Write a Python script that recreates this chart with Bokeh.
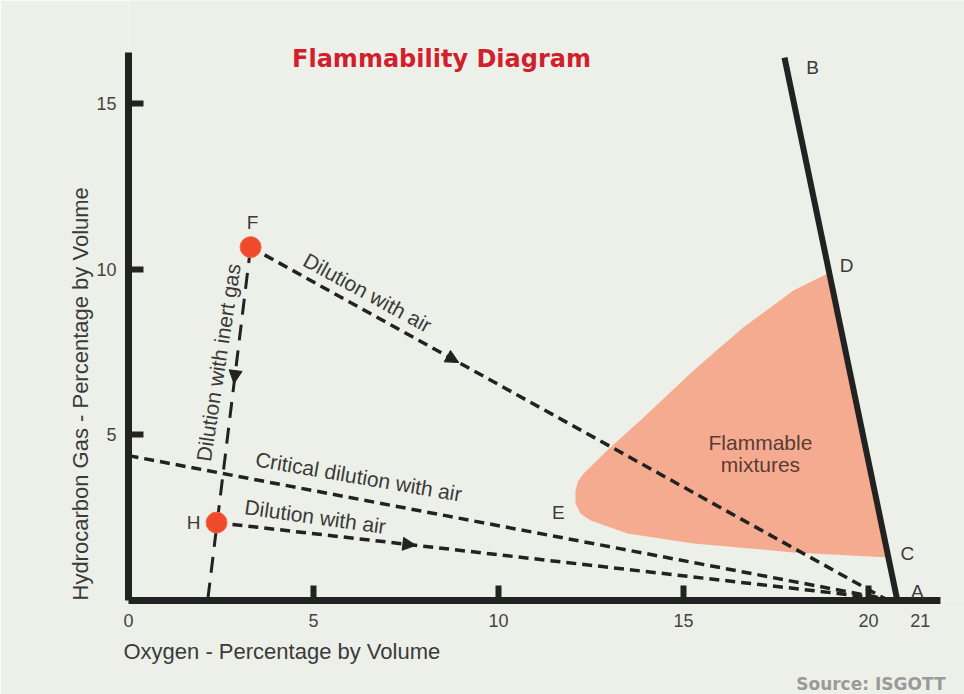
from bokeh.plotting import figure
from bokeh.models import (Range1d, FixedTicker, Label, LabelSet, ColumnDataSource,
                          Arrow, NormalHead, Title)
from bokeh.core.properties import value
from bokeh.embed import file_html
from bokeh.resources import INLINE

# ---------------- data ----------------
# flammable region outline (oxygen %, hydrocarbon %)
region_x = [18.94, 20.54, 17.97, 15.27, 13.49, 12.49, 12.22, 12.08, 12.08, 12.15, 12.30, 13.03, 13.92, 15.27, 16.62, 17.97]
region_y = [9.89, 1.30, 1.45, 1.72, 2.02, 2.41, 2.62, 2.93, 3.32, 3.60, 3.83, 4.62, 5.52, 6.94, 8.24, 9.35]

# key points
point_B = (17.73, 16.38)
point_A = (20.78, 0.0)       # end of the B-A boundary line
point_A_mix = (20.45, 0.05)  # where the air-dilution lines converge
point_F = (3.30, 10.66)
point_H = (2.38, 2.35)
point_G = (0.0, 4.37)
point_inert_end = (2.14, 0.0)

# axis extents, tick marks / labels
x_axis_max = 21.95
y_axis_max = 16.53
x_tick_marks = [5, 10, 15, 20]
x_tick_pos = [0, 5, 10, 15, 20, 21.4]
x_tick_text = ["0", "5", "10", "15", "20", "21"]
y_ticks = [5, 10, 15]

# letter labels
letter_text = ["F", "H", "G", "E", "D", "C", "A", "B"]
letter_x = [3.35, 1.76, -0.54, 11.62, 19.41, 21.05, 21.32, 18.49]
letter_y = [11.40, 2.35, 4.37, 2.65, 10.11, 1.42, 0.27, 16.08]

# ---------------- styling ----------------
BG = "#edf0e8"
INK = "#222222"
TXT = "#3a3a3a"
FONT = "Liberation Sans"

p = figure(width=964, height=694, x_range=Range1d(0, 22.595), y_range=Range1d(0, 18.10),
           output_backend="svg", toolbar_location=None,
           min_border_left=128, min_border_right=0, min_border_top=0, min_border_bottom=94,
           background_fill_color=BG, border_fill_color=BG, outline_line_color=None)
p.title.text = ""
p.grid.visible = False

# axes
xa = p.xaxis[0]
xa.bounds = (0, x_axis_max)
xa.ticker = FixedTicker(ticks=x_tick_pos, minor_ticks=x_tick_marks)
xa.major_label_overrides = {float(k): t for k, t in zip(x_tick_pos, x_tick_text)}
xa.major_tick_in = 0
xa.major_tick_out = 0
xa.major_tick_line_alpha = 0
xa.minor_tick_in = 15
xa.minor_tick_out = 0
xa.minor_tick_line_width = 6
xa.minor_tick_line_color = INK
xa.major_label_standoff = 13

ya = p.yaxis[0]
ya.bounds = (0, y_axis_max)
ya.ticker = FixedTicker(ticks=y_ticks, minor_ticks=[])
ya.major_tick_in = 15
ya.major_tick_out = 0
ya.major_tick_line_width = 6
ya.major_tick_line_color = INK
ya.major_label_standoff = 12
ya.major_label_orientation = "horizontal"

for ax in (xa, ya):
    ax.axis_line_width = 7
    ax.axis_line_color = INK
    ax.major_label_text_font = FONT
    ax.major_label_text_font_size = "18px"
    ax.major_label_text_color = "#444444"

# axis titles and source (as side titles)
p.add_layout(Title(text="Oxygen - Percentage by Volume", align="left", offset=-5,
                   vertical_align="middle", standoff=16, text_font=FONT,
                   text_font_size="22px", text_font_style="normal", text_color=TXT), "below")
p.add_layout(Title(text="Source: ISGOTT", align="right", offset=19,
                   vertical_align="middle", standoff=0, text_font="DejaVu Sans",
                   text_font_size="17px", text_font_style="bold", text_color="#9a9a9a"), "below")
p.add_layout(Title(text="Hydrocarbon Gas - Percentage by Volume", align="left", offset=0,
                   vertical_align="middle", standoff=0, text_font=FONT,
                   text_font_size="22px", text_font_style="normal", text_color=TXT), "left")

# flammable region
p.patch(region_x, region_y, fill_color="#f5ab90", line_color=None)

# dashed dilution lines
p.line([point_F[0], point_A_mix[0]], [point_F[1], point_A_mix[1]],
       line_color=INK, line_width=3.5, line_dash="10 6")
p.line([point_G[0], point_A_mix[0]], [point_G[1], point_A_mix[1]],
       line_color=INK, line_width=3.5, line_dash="10 6")
p.line([point_H[0], point_A_mix[0]], [point_H[1], point_A_mix[1]],
       line_color=INK, line_width=3.5, line_dash="10 6")
p.line([point_F[0], point_inert_end[0]], [point_F[1], point_inert_end[1]],
       line_color=INK, line_width=3, line_dash="16 10")

# B-A boundary
p.line([point_B[0], point_A[0]], [point_B[1], point_A[1]], line_color=INK, line_width=6)

# points F and H
p.scatter([point_F[0], point_H[0]], [point_F[1], point_H[1]], size=21,
          fill_color="#ef4a2c", line_color="#f26a4c", line_width=1)

# arrow heads along lines (start, end, fraction)
arrow_specs = [(point_F, point_A_mix, 0.328), (point_H, point_A_mix, 0.298),
               (point_F, point_inert_end, 0.386)]
for s, e, t in arrow_specs:
    t0 = t - 0.02
    p.add_layout(Arrow(end=NormalHead(size=13, fill_color=INK, line_color=INK),
                       x_start=s[0] + t0 * (e[0] - s[0]), y_start=s[1] + t0 * (e[1] - s[1]),
                       x_end=s[0] + t * (e[0] - s[0]), y_end=s[1] + t * (e[1] - s[1]),
                       line_alpha=0))

# letter labels
src = ColumnDataSource(dict(x=letter_x, y=letter_y, t=letter_text))
p.add_layout(LabelSet(x="x", y="y", text="t", source=src, text_align="center",
                      text_baseline="middle", text_font=value(FONT),
                      text_font_size=value("19px"), text_color=TXT))

def lab(x, y, text, angle=0.0, size="21px", color=TXT, align="center", font=FONT, style="normal"):
    p.add_layout(Label(x=x, y=y, text=text, angle=angle, text_align=align,
                       text_baseline="middle", text_font=font, text_font_size=size,
                       text_color=color, text_font_style=style))

lab(6.46, 9.29, "Dilution with air", angle=-0.50)
lab(6.22, 3.74, "Critical dilution with air", angle=-0.17)
lab(5.05, 2.53, "Dilution with air", angle=-0.14)
lab(2.43, 7.18, "Dilution with inert gas", angle=1.42)
p.add_layout(Label(x=17.08, y=4.43, text="Flammable\nmixtures", text_align="center",
                   text_baseline="middle", text_font=FONT, text_font_size="21px",
                   text_color="#5b3b33", text_line_height=0.95))

# chart title inside the drawing area
lab(8.46, 16.35, "Flammability Diagram", size="24px", color="#d21f2e",
    font="DejaVu Sans", style="bold")

open("out.html", "w").write(file_html(p, INLINE))
